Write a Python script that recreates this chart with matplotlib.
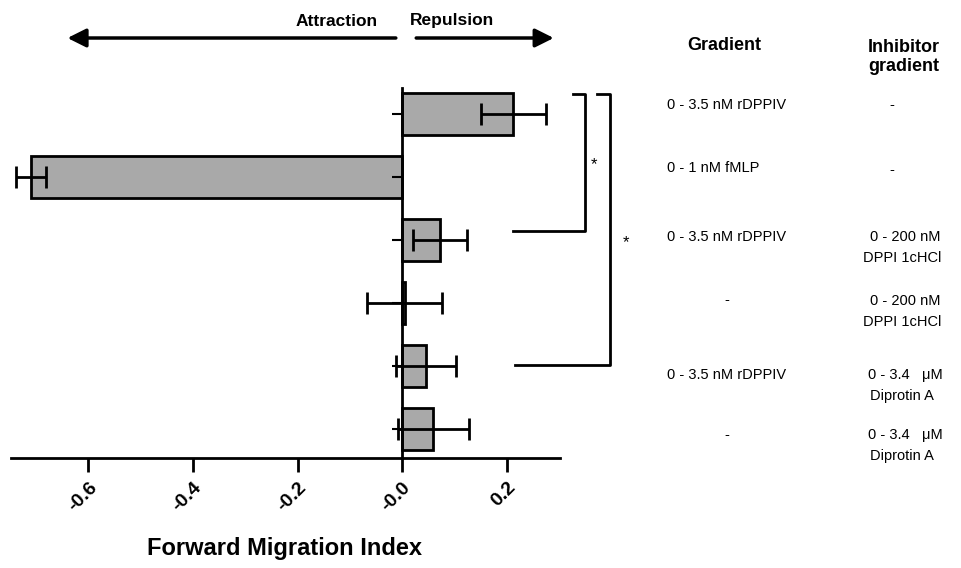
import matplotlib.pyplot as plt
import numpy as np

plt.rcParams['font.family'] = ['Liberation Sans', 'DejaVu Sans']

# forward migration index per condition (top to bottom)
values = [0.213, -0.710, 0.073, 0.005, 0.046, 0.060]
errors = [0.063, 0.028, 0.052, 0.072, 0.058, 0.068]
gradient = ["0 - 3.5 nM rDPPIV", "0 - 1 nM fMLP", "0 - 3.5 nM rDPPIV", "-",
            "0 - 3.5 nM rDPPIV", "-"]
inhibitor_top = ["-", "-", "0 - 200 nM", "0 - 200 nM", "0 - 3.4   \u03bcM", "0 - 3.4   \u03bcM"]
inhibitor_bot = ["", "", "DPPI 1cHCl", "DPPI 1cHCl", "Diprotin A", "Diprotin A"]
xticks = [-0.6, -0.4, -0.2, 0.0, 0.2]
xticklabels = ["-0.6", "-0.4", "-0.2", "-0.0", "0.2"]

W, H = 962, 568
fig = plt.figure(figsize=(W / 100, H / 100), dpi=100)
ax = fig.add_axes([11 / W, 1 - 458 / H, 549 / W, 370 / H])

y = np.arange(len(values))
ax.barh(y, values, height=0.67, color='#a9a9a9', edgecolor='black', linewidth=2)
ax.errorbar(values, y, xerr=errors, fmt='none', ecolor='black',
            elinewidth=2, capsize=8, capthick=2)

ax.set_xlim(-0.748, 0.302)
ax.set_ylim(5.46, -0.41)
for s in ['top', 'right']:
    ax.spines[s].set_visible(False)
ax.spines['left'].set_position(('data', 0))
ax.spines['left'].set_linewidth(2)
ax.spines['bottom'].set_linewidth(2)
ax.set_yticks(y)
ax.set_yticklabels([])
ax.tick_params(axis='y', length=7, width=1.5)
ax.set_xticks(xticks)
ax.set_xticklabels(xticklabels, rotation=45, ha='right', va='top',
                   rotation_mode='anchor', fontsize=14, fontweight='bold')
ax.tick_params(axis='x', length=10, width=2, pad=5)

fig.text(285 / W, 1 - 548 / H, "Forward Migration Index", fontsize=17,
         fontweight='bold', ha='center', va='center')

# attraction / repulsion arrows
ay = 1 - 38 / H
ax.annotate('', xy=(-0.640, ay), xytext=(-0.012, ay),
            xycoords=('data', 'figure fraction'), textcoords=('data', 'figure fraction'),
            arrowprops=dict(arrowstyle='-|>', lw=2.5, color='black', mutation_scale=28,
                            shrinkA=0, shrinkB=0), annotation_clip=False)
ax.annotate('', xy=(0.290, ay), xytext=(0.027, ay),
            xycoords=('data', 'figure fraction'), textcoords=('data', 'figure fraction'),
            arrowprops=dict(arrowstyle='-|>', lw=2.5, color='black', mutation_scale=28,
                            shrinkA=0, shrinkB=0), annotation_clip=False)
fig.text(378 / W, 1 - 21 / H, "Attraction", fontsize=12.5, fontweight='bold',
         ha='right', va='center')
fig.text(410 / W, 1 - 21 / H, "Repulsion", fontsize=12.5, fontweight='bold',
         ha='left', va='center')

# significance brackets
ax.plot([0.327, 0.350, 0.350, 0.213], [-0.32, -0.32, 1.86, 1.86],
        color='black', lw=2, clip_on=False)
ax.plot([0.373, 0.398, 0.398, 0.216], [-0.32, -0.32, 3.98, 3.98],
        color='black', lw=2, clip_on=False)
fig.text(594 / W, 1 - 165 / H, "*", fontsize=12, ha='center', va='center')
fig.text(626 / W, 1 - 243 / H, "*", fontsize=12, ha='center', va='center')

# condition table
fig.text(724 / W, 1 - 45 / H, "Gradient", fontsize=13, fontweight='bold',
         ha='center', va='center')
fig.text(904 / W, 1 - 57 / H, "Inhibitor\ngradient", fontsize=13, fontweight='bold',
         ha='center', va='center', linespacing=1.1)
grad_y = [105, 168, 237, 300, 375, 435]
inh_y = [105, 170, 237, 301, 375, 435]
for i in range(len(values)):
    if gradient[i] == "-":
        fig.text(727 / W, 1 - grad_y[i] / H, "-", fontsize=10.5, ha='center', va='center')
    else:
        fig.text(667 / W, 1 - grad_y[i] / H, gradient[i], fontsize=10.5,
                 ha='left', va='center')
    if inhibitor_bot[i] == "":
        fig.text(892 / W, 1 - inh_y[i] / H, inhibitor_top[i], fontsize=10.5,
                 ha='center', va='center')
    else:
        fig.text(905 / W, 1 - inh_y[i] / H, inhibitor_top[i], fontsize=10.5,
                 ha='center', va='center')
        fig.text(902 / W, 1 - (inh_y[i] + 21) / H, inhibitor_bot[i], fontsize=10.5,
                 ha='center', va='center')

fig.savefig('out.png', dpi=100)
